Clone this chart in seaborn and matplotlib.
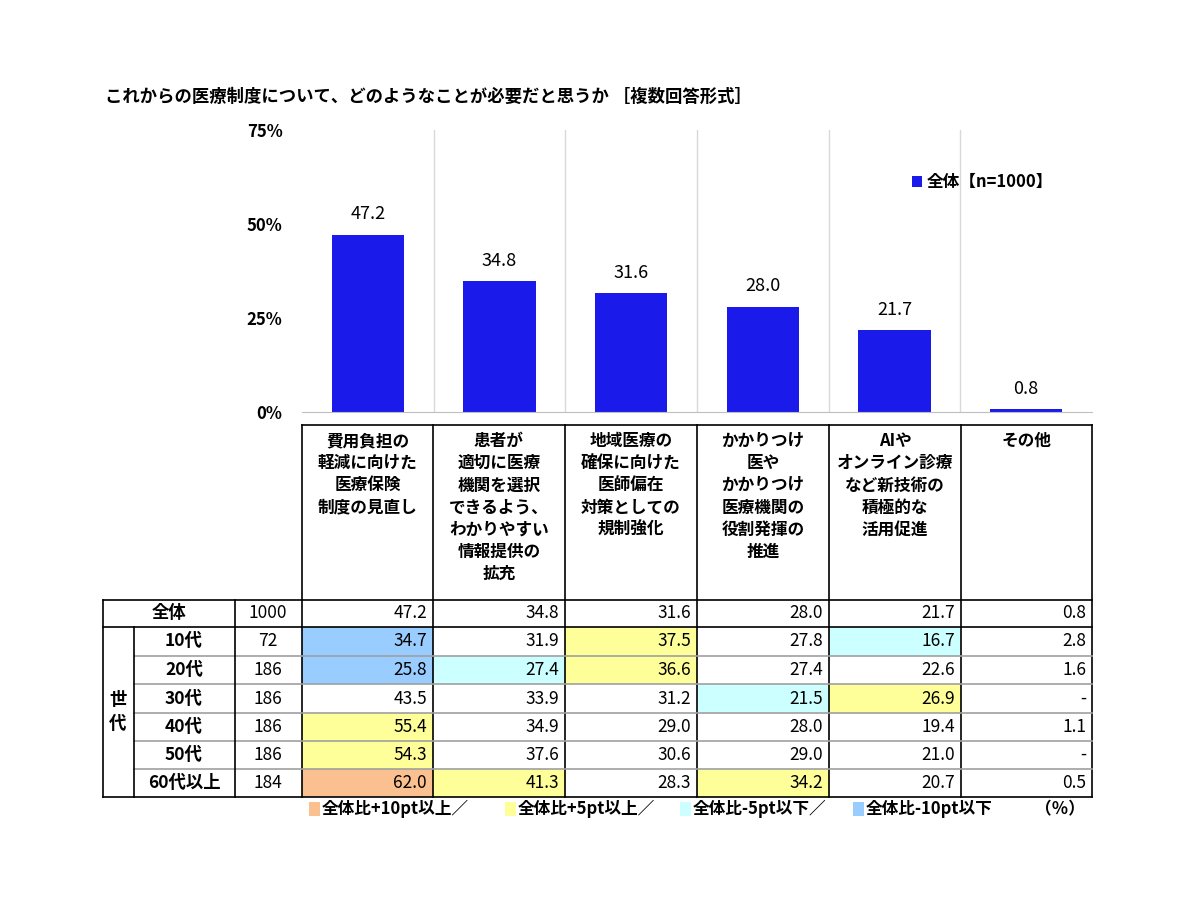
import matplotlib.pyplot as plt
import seaborn as sns
import pandas as pd
from matplotlib.patches import Rectangle

plt.rcParams['font.family'] = 'Noto Sans CJK JP'
plt.rcParams['font.weight'] = 'bold'

categories = ['費用負担の\n軽減に向けた\n医療保険\n制度の見直し',
              '患者が\n適切に医療\n機関を選択\nできるよう、\nわかりやすい\n情報提供の\n拡充',
              '地域医療の\n確保に向けた\n医師偏在\n対策としての\n規制強化',
              'かかりつけ\n医や\nかかりつけ\n医療機関の\n役割発揮の\n推進',
              'AIや\nオンライン診療\nなど新技術の\n積極的な\n活用促進',
              'その他']
total = [47.2, 34.8, 31.6, 28.0, 21.7, 0.8]
groups = ['10代', '20代', '30代', '40代', '50代', '60代以上']
counts = [72, 186, 186, 186, 186, 184]
table_vals = [
    [34.7, 31.9, 37.5, 27.8, 16.7, 2.8],
    [25.8, 27.4, 36.6, 27.4, 22.6, 1.6],
    [43.5, 33.9, 31.2, 21.5, 26.9, None],
    [55.4, 34.9, 29.0, 28.0, 19.4, 1.1],
    [54.3, 37.6, 30.6, 29.0, 21.0, None],
    [62.0, 41.3, 28.3, 34.2, 20.7, 0.5],
]
yticks = [0, 25, 50, 75]

C_OR, C_YE, C_CY, C_BL = '#fac090', '#ffff99', '#ccffff', '#99ccff'
BAR = '#1a1aeb'

W, H = 1200, 900
fig = plt.figure(figsize=(12, 9), dpi=100)
bg = fig.add_axes([0, 0, 1, 1])
bg.set_xlim(0, W)
bg.set_ylim(H, 0)
bg.axis('off')

# bar chart
x0, x1, y0, y1 = 302, 1092, 412, 130
ax = fig.add_axes([x0 / W, 1 - y0 / H, (x1 - x0) / W, (y0 - y1) / H])
df = pd.DataFrame({'cat': range(6), 'val': total})
sns.barplot(data=df, x='cat', y='val', color=BAR, width=0.55, ax=ax,
            saturation=1, label='全体【n=1000】')
ax.set_ylim(0, 75)
ax.set_xlim(-0.5, 5.5)
ax.set_yticks(yticks)
ax.set_yticklabels([f'{t}%' for t in yticks], fontsize=12)
ax.set_xticks([])
ax.set_xlabel('')
ax.set_ylabel('')
for i in range(1, 6):
    ax.axvline(i - 0.5, color='#d9d9d9', lw=1)
for s in ['top', 'right', 'left']:
    ax.spines[s].set_visible(False)
ax.spines['bottom'].set_color('#bfbfbf')
ax.tick_params(axis='y', length=0, pad=14)
for i, v in enumerate(total):
    ax.text(i, v + 3, f'{v:.1f}', ha='center', va='bottom', fontsize=13, weight='normal')
ax.legend(loc='upper right', bbox_to_anchor=(0.97, 0.9), frameon=False,
          fontsize=12, handlelength=0.6, handleheight=0.6, handletextpad=0.3)

bg.text(105, 97, 'これからの医療制度について、どのようなことが必要だと思うか ［複数回答形式］',
        fontsize=12.5, va='center', ha='left')

# table
cols = [302, 433, 565, 697, 829, 961, 1092]
rows = [600, 627, 656, 684, 713, 741, 769, 797]
lw = 1.2

def color_for(v, base):
    if v is None:
        return 'white'
    d = v - base
    if d >= 10:
        return C_OR
    if d >= 5:
        return C_YE
    if d <= -10:
        return C_BL
    if d <= -5:
        return C_CY
    return 'white'

for r, rowv in enumerate(table_vals):
    for c, v in enumerate(rowv):
        fc = color_for(v, total[c])
        bg.add_patch(Rectangle((cols[c], rows[r + 1]), cols[c + 1] - cols[c],
                               rows[r + 2] - rows[r + 1], fc=fc, ec='none'))
        txt = '-' if v is None else f'{v:.1f}'
        bg.text(cols[c + 1] - 6, (rows[r + 1] + rows[r + 2]) / 2, txt,
                ha='right', va='center', fontsize=12.5, weight='normal')

for c, v in enumerate(total):
    bg.text(cols[c + 1] - 6, (rows[0] + rows[1]) / 2, f'{v:.1f}',
            ha='right', va='center', fontsize=12.5, weight='normal')
for c, lab in enumerate(categories):
    bg.text((cols[c] + cols[c + 1]) / 2, 432, lab, ha='center', va='top',
            fontsize=12, linespacing=1.3)

# grid lines
for xc in cols:
    bg.plot([xc, xc], [425, rows[-1]], color='black', lw=lw)
bg.plot([302, 1092], [425, 425], color='black', lw=lw)
bg.plot([103, 1092], [600, 600], color='black', lw=lw)
bg.plot([103, 1092], [627, 627], color='black', lw=lw)
bg.plot([103, 1092], [797, 797], color='black', lw=lw)
for yr in rows[2:-1]:
    bg.plot([134, 1092], [yr, yr], color='#a0a0a0', lw=lw)
for xc in [103, 235]:
    bg.plot([xc, xc], [600, 797], color='black', lw=lw)
bg.plot([134, 134], [627, 797], color='black', lw=lw)

bg.text(169, 613.5, '全体', ha='center', va='center', fontsize=12.5)
bg.text(268, 613.5, '1000', ha='center', va='center', fontsize=12.5, weight='normal')
bg.text(118, 712, '世\n代', ha='center', va='center', fontsize=12.5, linespacing=1.4)
for r, (g, n) in enumerate(zip(groups, counts)):
    ym = (rows[r + 1] + rows[r + 2]) / 2
    bg.text(184, ym, g, ha='center', va='center', fontsize=12.5)
    bg.text(268, ym, str(n), ha='center', va='center', fontsize=12.5, weight='normal')

# color key
keys = [(C_OR, '全体比+10pt以上／', 309), (C_YE, '全体比+5pt以上／', 505),
        (C_CY, '全体比-5pt以下／', 680), (C_BL, '全体比-10pt以下', 853)]
for col, lab, kx in keys:
    bg.add_patch(Rectangle((kx, 802), 11, 14, fc=col, ec='none'))
    bg.text(kx + 13, 809, lab, ha='left', va='center', fontsize=12)
bg.text(1085, 809, '（％）', ha='right', va='center', fontsize=12)

fig.savefig('out.png', dpi=100, facecolor='white')
